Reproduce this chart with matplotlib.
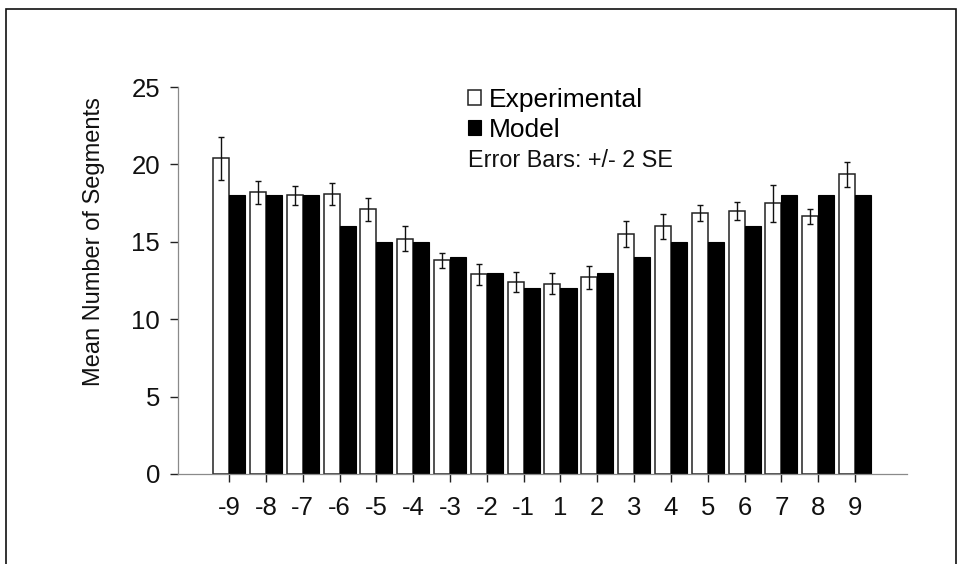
import numpy as np
import matplotlib.pyplot as plt
from matplotlib.patches import Rectangle

plt.rcParams['font.family'] = ['Liberation Sans', 'DejaVu Sans']

# serial positions and per-position means
positions = ['-9', '-8', '-7', '-6', '-5', '-4', '-3', '-2', '-1',
             '1', '2', '3', '4', '5', '6', '7', '8', '9']
experimental = [20.4, 18.2, 18.0, 18.1, 17.1, 15.2, 13.8, 12.9, 12.4,
                12.3, 12.7, 15.5, 16.0, 16.85, 17.0, 17.5, 16.65, 19.35]
exp_err = [1.4, 0.75, 0.6, 0.72, 0.75, 0.82, 0.5, 0.68, 0.66,
           0.7, 0.75, 0.82, 0.82, 0.5, 0.57, 1.2, 0.47, 0.83]
model = [18, 18, 18, 16, 15, 15, 14, 13, 12,
         12, 13, 14, 15, 15, 16, 18, 18, 18]

fig = plt.figure(figsize=(9.58, 5.64), dpi=100)
ax = fig.add_axes([0.1858, 0.1596, 0.761, 0.6861])

x = np.arange(len(positions))
w = 0.435
b_exp = ax.bar(x - w / 2, experimental, w, color='white', edgecolor='#222222',
               linewidth=1.1, label='Experimental', zorder=2)
b_mod = ax.bar(x + w / 2, model, w, color='black', edgecolor='black',
               linewidth=0.8, label='Model', zorder=2)
ax.errorbar(x - w / 2, experimental, yerr=exp_err, fmt='none', ecolor='#111111',
            elinewidth=1.0, capsize=2.4, capthick=1.0, zorder=3)

ax.set_xlim(-1.386, 18.41)
ax.set_ylim(0, 25)
ax.set_yticks([0, 5, 10, 15, 20, 25])
ax.set_xticks(x)
ax.set_xticklabels(positions)

for side in ['top', 'right']:
    ax.spines[side].set_visible(False)
for side in ['left', 'bottom']:
    ax.spines[side].set_color('#8a8a8a')
    ax.spines[side].set_linewidth(0.9)

ax.tick_params(axis='both', direction='out', length=6, width=1.0,
               color='#222222', labelsize=18.5, labelcolor='#111111')
ax.tick_params(axis='x', pad=10)
ax.tick_params(axis='y', pad=7)

ax.set_ylabel('Mean Number of Segments', fontsize=17, color='#111111')
ax.yaxis.set_label_coords(-0.1, 0.6)

leg = ax.legend(handles=[b_exp, b_mod], labels=['Experimental', 'Model'],
                loc='upper left', bbox_to_anchor=(468 / 958, 1 - 88 / 564),
                bbox_transform=fig.transFigure, frameon=False, fontsize=19,
                handlelength=0.48, handleheight=0.48, handletextpad=0.3,
                borderpad=0, borderaxespad=0, labelspacing=0.22)
fig.text(468 / 958, 1 - 161 / 564, 'Error Bars: +/- 2 SE', fontsize=16.8,
         va='center', ha='left', color='#111111')

# outer frame, open at the bottom
fig.patches.append(Rectangle((6 / 958, -0.05), 950 / 958, 1.05 - 9 / 564,
                             transform=fig.transFigure, fill=False,
                             edgecolor='#111111', linewidth=1.2))

fig.savefig('out.png', dpi=100)
